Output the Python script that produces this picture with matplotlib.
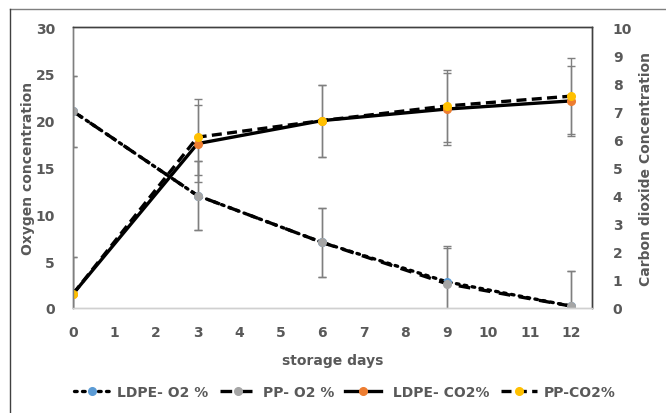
import matplotlib
matplotlib.use('Agg')
import matplotlib.pyplot as plt
from matplotlib.lines import Line2D

plt.rcParams['font.family'] = ['DejaVu Sans']
plt.rcParams['font.weight'] = 'bold'
plt.rcParams['axes.labelweight'] = 'bold'

# 数据
days = [0, 3, 6, 9, 12]
ldpe_o2 = [21, 12, 7, 2.8, 0.2]
pp_o2 = [21, 12, 7, 2.6, 0.2]
ldpe_co2 = [0.5, 5.85, 6.67, 7.08, 7.37]
pp_co2 = [0.5, 6.08, 6.67, 7.19, 7.54]
o2_err = [3.8, 3.7, 3.7, 3.8, 3.75]
ldpe_co2_err = [1.3, 1.38, 1.28, 1.28, 1.25]
pp_co2_err = [1.3, 1.36, 1.28, 1.28, 1.35]

TXT = '#595959'
ERR = '#7f7f7f'
BLUE = '#5B9BD5'
GRAY = '#A5A5A5'
ORANGE = '#ED7D31'
YELLOW = '#FFC000'

fig = plt.figure(figsize=(6.66, 4.14), dpi=100)
ax1 = fig.add_axes([73/666, 1 - 309/414, (592 - 73)/666, (309 - 28)/414])
ax2 = ax1.twinx()

lw = 2.4
ms = 5.5
dot_ls = (0, (0.8, 1.6))
long_ls = (0, (3.5, 2.6))
dash_ls = (0, (3, 1.6))

# 氧气
ax1.errorbar(days, ldpe_o2, yerr=o2_err, fmt='none', ecolor=ERR, elinewidth=1, capsize=3, capthick=1)
ax1.errorbar(days, pp_o2, yerr=o2_err, fmt='none', ecolor=ERR, elinewidth=1, capsize=3, capthick=1)
ax1.plot(days, ldpe_o2, color='black', lw=lw, linestyle=dot_ls, dash_capstyle='round',
         marker='o', ms=ms, mfc=BLUE, mec=BLUE)
ax1.plot(days, pp_o2, color='black', lw=lw, linestyle=long_ls,
         marker='o', ms=ms, mfc=GRAY, mec=GRAY)

# 二氧化碳
ax2.errorbar(days, ldpe_co2, yerr=ldpe_co2_err, fmt='none', ecolor=ERR, elinewidth=1, capsize=3, capthick=1)
ax2.errorbar(days, pp_co2, yerr=pp_co2_err, fmt='none', ecolor=ERR, elinewidth=1, capsize=3, capthick=1)
ax2.plot(days, ldpe_co2, color='black', lw=lw, linestyle='-',
         marker='o', ms=ms, mfc=ORANGE, mec=ORANGE)
ax2.plot(days, pp_co2, color='black', lw=lw, linestyle=dash_ls,
         marker='o', ms=ms, mfc=YELLOW, mec=YELLOW)

ax1.set_xlim(0, 12.5)
ax1.set_ylim(0, 30)
ax2.set_ylim(0, 10)
ax1.set_xticks(range(0, 13))
ax1.set_yticks(range(0, 31, 5))
ax2.set_yticks(range(0, 11))

for ax in (ax1, ax2):
    ax.tick_params(length=0, labelsize=10, labelcolor=TXT)
    for s in ax.spines.values():
        s.set_color('#404040')
        s.set_linewidth(1)
    ax.spines['left'].set_color('#7f7f7f')
    ax.spines['bottom'].set_color('#d0d0d0')
ax1.tick_params(axis='x', pad=12)
ax1.tick_params(axis='y', pad=13)
ax2.tick_params(axis='y', pad=15)

ax1.set_xlabel('storage days', fontsize=10, color=TXT, labelpad=10)
ax1.set_ylabel('Oxygen concentration', fontsize=10, color=TXT, labelpad=0)
ax2.set_ylabel('Carbon dioxide Concentration', fontsize=10, color=TXT, labelpad=5)

handles = [
    Line2D([], [], color='black', lw=lw, linestyle=dot_ls, dash_capstyle='round',
           marker='o', ms=ms, mfc=BLUE, mec=BLUE),
    Line2D([], [], color='black', lw=lw, linestyle=long_ls,
           marker='o', ms=ms, mfc=GRAY, mec=GRAY),
    Line2D([], [], color='black', lw=lw, linestyle='-',
           marker='o', ms=ms, mfc=ORANGE, mec=ORANGE),
    Line2D([], [], color='black', lw=lw, linestyle=dash_ls,
           marker='o', ms=ms, mfc=YELLOW, mec=YELLOW),
]
labels = ['LDPE- O2 %', 'PP- O2 %', ' LDPE- CO2%', 'PP-CO2%']
leg = fig.legend(handles, labels, loc='center', bbox_to_anchor=(345/666, 1 - 393/414), ncol=4,
                 frameon=False, fontsize=10, handlelength=2.6, handletextpad=0.5, columnspacing=0.8,
                 labelcolor=TXT)

# 外框
fig.add_artist(Line2D([10/666, 0.998], [1 - 10/414, 1 - 10/414], color='#7f7f7f', lw=1))
fig.add_artist(Line2D([10/666, 10/666], [0, 1 - 10/414], color='#404040', lw=1))

fig.savefig('out.png', dpi=100)
